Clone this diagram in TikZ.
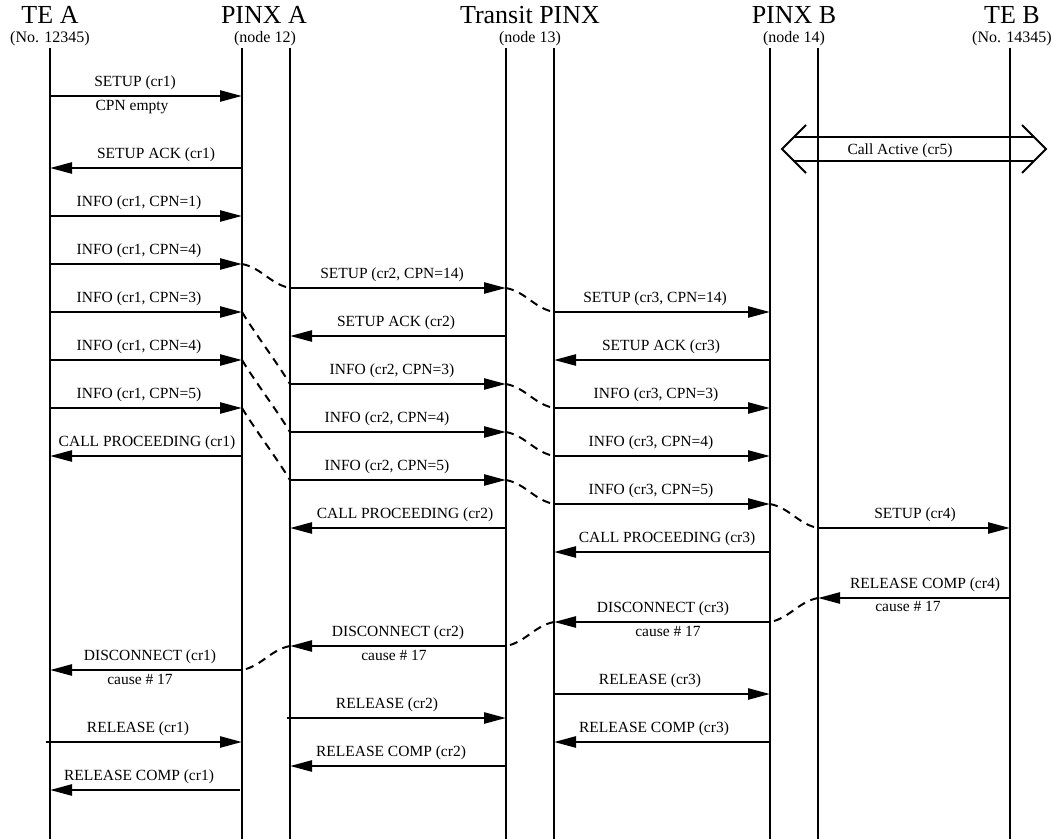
\documentclass[tikz,border=0pt]{standalone}
\usepackage{fontspec}
\setmainfont{Liberation Serif}
\usetikzlibrary{arrows.meta}

\tikzset{
  life/.style={line width=2bp},
  msg/.style={line width=2.5bp,-{Triangle[length=22bp,width=11bp]}},
  link/.style={line width=2bp,dash pattern=on 8bp off 6bp},
  lbl/.style={font=\fontsize{15.5bp}{18bp}\selectfont,inner sep=0pt,anchor=base},
  head/.style={font=\fontsize{26bp}{30bp}\selectfont,inner sep=0pt,anchor=base},
  sub/.style={font=\fontsize{16bp}{19bp}\selectfont,inner sep=0pt,anchor=base},
}

\begin{document}
\begin{tikzpicture}[x=1bp,y=-1bp]
\useasboundingbox (0,0) rectangle (1052,839);
% headers
\node[head](hTEA) at (50,23) {TE A};
\node[sub](sTEA) at (50,42) {(No. 12345)};
\node[head](hPXA) at (264,23) {PINX A};
\node[sub](sPXA) at (265,42) {(node 12)};
\node[head](hTRN) at (530,23) {Transit PINX};
\node[sub](sTRN) at (530,42) {(node 13)};
\node[head](hPXB) at (794,23) {PINX B};
\node[sub](sPXB) at (794,42) {(node 14)};
\node[head](hTEB) at (1012,23) {TE B};
\node[sub](sTEB) at (1012,42) {(No. 14345)};
%
% lifelines
\coordinate (tea0) at (50,48);   \coordinate (tea1) at (50,839);
\coordinate (pxa0) at (242,48);  \coordinate (pxa1) at (242,839);
\coordinate (pxA0) at (290,48);  \coordinate (pxA1) at (290,839);
\coordinate (trn0) at (506,48);  \coordinate (trn1) at (506,839);
\coordinate (trN0) at (554,48);  \coordinate (trN1) at (554,839);
\coordinate (pxb0) at (770,48);  \coordinate (pxb1) at (770,839);
\coordinate (pxB0) at (818,48);  \coordinate (pxB1) at (818,839);
\coordinate (teb0) at (1010,48); \coordinate (teb1) at (1010,839);
\draw[life] (tea0) -- (tea1);
\draw[life] (pxa0) -- (pxa1);
\draw[life] (pxA0) -- (pxA1);
\draw[life] (trn0) -- (trn1);
\draw[life] (trN0) -- (trN1);
\draw[life] (pxb0) -- (pxb1);
\draw[life] (pxB0) -- (pxB1);
\draw[life] (teb0) -- (teb1);
%
% TE A <-> PINX A
\coordinate (a1s) at (50,96);   \coordinate (a1e) at (242,96);
\coordinate (a2s) at (242,168); \coordinate (a2e) at (50,168);
\coordinate (a3s) at (50,216);  \coordinate (a3e) at (242,216);
\coordinate (a4s) at (50,264);  \coordinate (a4e) at (242,264);
\coordinate (a5s) at (50,312);  \coordinate (a5e) at (242,312);
\coordinate (a6s) at (50,360);  \coordinate (a6e) at (242,360);
\coordinate (a7s) at (50,408);  \coordinate (a7e) at (242,408);
\coordinate (a8s) at (242,456); \coordinate (a8e) at (50,456);
\coordinate (a9s) at (242,670); \coordinate (a9e) at (50,670);
\coordinate (a10s) at (46,742); \coordinate (a10e) at (242,742);
\coordinate (a11s) at (240,790);\coordinate (a11e) at (50,790);
\draw[msg] (a1s) -- (a1e);
\draw[msg] (a2s) -- (a2e);
\draw[msg] (a3s) -- (a3e);
\draw[msg] (a4s) -- (a4e);
\draw[msg] (a5s) -- (a5e);
\draw[msg] (a6s) -- (a6e);
\draw[msg] (a7s) -- (a7e);
\draw[msg] (a8s) -- (a8e);
\draw[msg] (a9s) -- (a9e);
\draw[msg] (a10s) -- (a10e);
\draw[msg] (a11s) -- (a11e);
\node[lbl](la1) at (135,86) {SETUP (cr1)};
\node[lbl](la1b) at (132,110) {CPN empty};
\node[lbl](la2) at (156,158) {SETUP ACK (cr1)};
\node[lbl](la3) at (139,206) {INFO (cr1, CPN=1)};
\node[lbl](la4) at (139,254) {INFO (cr1, CPN=4)};
\node[lbl](la5) at (139,302) {INFO (cr1, CPN=3)};
\node[lbl](la6) at (139,350) {INFO (cr1, CPN=4)};
\node[lbl](la7) at (139,398) {INFO (cr1, CPN=5)};
\node[lbl](la8) at (147,446) {CALL PROCEEDING (cr1)};
\node[lbl](la9) at (150,660) {DISCONNECT (cr1)};
\node[lbl](la9b) at (140,684) {cause \# 17};
\node[lbl](la10) at (138,732) {RELEASE (cr1)};
\node[lbl](la11) at (139,780) {RELEASE COMP (cr1)};
%
% PINX A <-> Transit PINX
\coordinate (b1s) at (290,288); \coordinate (b1e) at (506,288);
\coordinate (b2s) at (506,336); \coordinate (b2e) at (290,336);
\coordinate (b3s) at (290,384); \coordinate (b3e) at (506,384);
\coordinate (b4s) at (290,432); \coordinate (b4e) at (506,432);
\coordinate (b5s) at (290,480); \coordinate (b5e) at (506,480);
\coordinate (b6s) at (506,528); \coordinate (b6e) at (290,528);
\coordinate (b7s) at (506,646); \coordinate (b7e) at (290,646);
\coordinate (b8s) at (287,718); \coordinate (b8e) at (506,718);
\coordinate (b9s) at (506,766); \coordinate (b9e) at (290,766);
\draw[msg] (b1s) -- (b1e);
\draw[msg] (b2s) -- (b2e);
\draw[msg] (b3s) -- (b3e);
\draw[msg] (b4s) -- (b4e);
\draw[msg] (b5s) -- (b5e);
\draw[msg] (b6s) -- (b6e);
\draw[msg] (b7s) -- (b7e);
\draw[msg] (b8s) -- (b8e);
\draw[msg] (b9s) -- (b9e);
\node[lbl](lb1) at (392,278) {SETUP (cr2, CPN=14)};
\node[lbl](lb2) at (396,326) {SETUP ACK (cr2)};
\node[lbl](lb3) at (392,374) {INFO (cr2, CPN=3)};
\node[lbl](lb4) at (387,422) {INFO (cr2, CPN=4)};
\node[lbl](lb5) at (387,470) {INFO (cr2, CPN=5)};
\node[lbl](lb6) at (405,518) {CALL PROCEEDING (cr2)};
\node[lbl](lb7) at (398,636) {DISCONNECT (cr2)};
\node[lbl](lb7b) at (394,660) {cause \# 17};
\node[lbl](lb8) at (387,708) {RELEASE (cr2)};
\node[lbl](lb9) at (391,756) {RELEASE COMP (cr2)};
%
% Transit PINX <-> PINX B
\coordinate (c1s) at (554,312); \coordinate (c1e) at (770,312);
\coordinate (c2s) at (770,360); \coordinate (c2e) at (554,360);
\coordinate (c3s) at (554,408); \coordinate (c3e) at (770,408);
\coordinate (c4s) at (554,456); \coordinate (c4e) at (770,456);
\coordinate (c5s) at (554,504); \coordinate (c5e) at (770,504);
\coordinate (c6s) at (770,552); \coordinate (c6e) at (554,552);
\coordinate (c7s) at (770,622); \coordinate (c7e) at (554,622);
\coordinate (c8s) at (554,694); \coordinate (c8e) at (770,694);
\coordinate (c9s) at (770,742); \coordinate (c9e) at (554,742);
\draw[msg] (c1s) -- (c1e);
\draw[msg] (c2s) -- (c2e);
\draw[msg] (c3s) -- (c3e);
\draw[msg] (c4s) -- (c4e);
\draw[msg] (c5s) -- (c5e);
\draw[msg] (c6s) -- (c6e);
\draw[msg] (c7s) -- (c7e);
\draw[msg] (c8s) -- (c8e);
\draw[msg] (c9s) -- (c9e);
\node[lbl](lc1) at (655,302) {SETUP (cr3, CPN=14)};
\node[lbl](lc2) at (661,350) {SETUP ACK (cr3)};
\node[lbl](lc3) at (656,398) {INFO (cr3, CPN=3)};
\node[lbl](lc4) at (651,446) {INFO (cr3, CPN=4)};
\node[lbl](lc5) at (651,494) {INFO (cr3, CPN=5)};
\node[lbl](lc6) at (667,542) {CALL PROCEEDING (cr3)};
\node[lbl](lc7) at (663,612) {DISCONNECT (cr3)};
\node[lbl](lc7b) at (668,636) {cause \# 17};
\node[lbl](lc8) at (650,684) {RELEASE (cr3)};
\node[lbl](lc9) at (654,732) {RELEASE COMP (cr3)};
%
% PINX B <-> TE B
\coordinate (d1s) at (818,528);  \coordinate (d1e) at (1010,528);
\coordinate (d2s) at (1010,598); \coordinate (d2e) at (818,598);
\draw[msg] (d1s) -- (d1e);
\draw[msg] (d2s) -- (d2e);
\node[lbl](ld1) at (915,518) {SETUP (cr4)};
\node[lbl](ld2) at (925,588) {RELEASE COMP (cr4)};
\node[lbl](ld2b) at (908,611) {cause \# 17};
%
% call active
\coordinate (caL) at (782,149);
\coordinate (caR) at (1046,149);
\draw[life] (caL) ++(24,-24) -- (caL) -- ++(24,24);
\draw[life] (caR) ++(-24,-24) -- (caR) -- ++(-24,24);
\draw[life] (caL) ++(12,-12) -- ++(240,0);
\draw[life] (caL) ++(12,12) -- ++(240,0);
\node[lbl](lca) at (900,154) {Call Active (cr5)};
%
% dashed links
\draw[link] (a4e) .. controls +(20,4) and +(-20,-4) .. (b1s);
\draw[link] (b1e) .. controls +(20,4) and +(-20,-4) .. (c1s);
\draw[link] (a5e) .. controls +(12,20) and +(-12,-20) .. (b3s);
\draw[link] (a6e) .. controls +(12,20) and +(-12,-20) .. (b4s);
\draw[link] (a7e) .. controls +(12,20) and +(-12,-20) .. (b5s);
\draw[link] (b3e) .. controls +(20,4) and +(-20,-4) .. (c3s);
\draw[link] (b4e) .. controls +(20,4) and +(-20,-4) .. (c4s);
\draw[link] (b5e) .. controls +(20,4) and +(-20,-4) .. (c5s);
\draw[link] (c5e) .. controls +(20,4) and +(-20,-4) .. (d1s);
\draw[link] (d2e) .. controls +(-20,4) and +(20,-4) .. (c7s);
\draw[link] (c7e) .. controls +(-20,4) and +(20,-4) .. (b7s);
\draw[link] (b7e) .. controls +(-20,4) and +(20,-4) .. (a9s);
\end{tikzpicture}
\end{document}
